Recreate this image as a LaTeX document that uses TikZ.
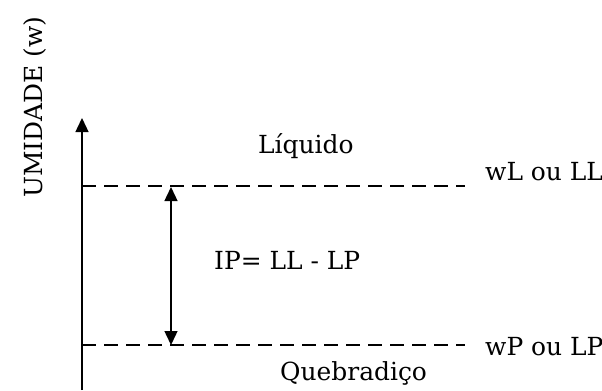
\documentclass[tikz,border=0pt]{standalone}
\usepackage{fontspec}
\setmainfont{DejaVu Serif}
\usepackage{tikz}
\usetikzlibrary{arrows.meta}

\begin{document}
\begin{tikzpicture}[x=1bp,y=-1bp,
	lbl/.style={font=\fontsize{25}{28}\selectfont,inner sep=0pt,anchor=base west},
	limite/.style={dash pattern=on 14bp off 8bp,line width=1.2bp},
	seta/.style={-{Triangle[width=13bp,length=14bp]},line width=1.4bp}]
			\useasboundingbox (0,0) rectangle (602,390);
			\coordinate (o) at (82,390);
			\coordinate (topo) at (82,118);
			\coordinate (ll0) at (82,186);
			\coordinate (ll1) at (465,186);
			\coordinate (lp0) at (82,345);
			\coordinate (lp1) at (465,345);
			\coordinate (ipa) at (171,187);
			\coordinate (ipb) at (171,345);
			\node[lbl,rotate=90] (umid) at (42,198) {UMIDADE (w)};
			\node[lbl] (liq) at (258,153) {Líquido};
			\node[lbl] (wl) at (485,180) {wL ou LL};
			\node[lbl] (ip) at (214,269) {IP= LL - LP};
			\node[lbl] (wp) at (485,355) {wP ou LP};
			\node[lbl] (queb) at (280,380) {Quebradiço};
			\path[seta]
			(o) edge (topo);
			\path[limite]
			(ll0) edge (ll1)
			(lp0) edge (lp1);
			\path[seta,{Triangle[width=13bp,length=14bp]}-{Triangle[width=13bp,length=14bp]}]
			(ipa) edge (ipb);
		\end{tikzpicture}
\end{document}
